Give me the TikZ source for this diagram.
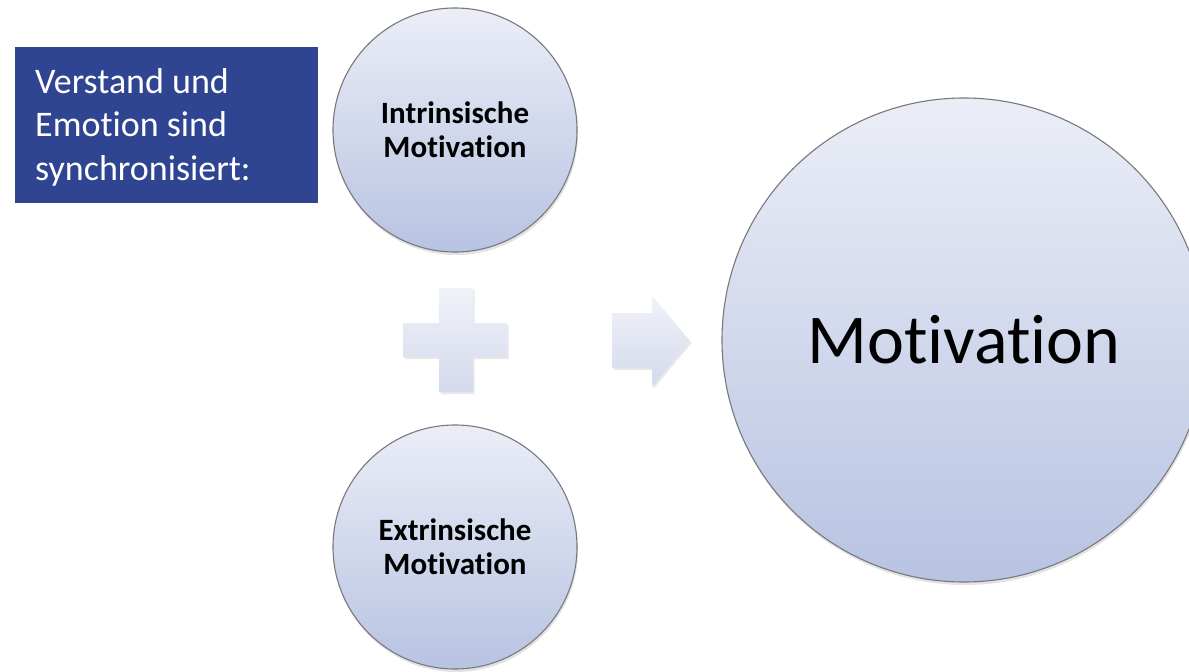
\documentclass[tikz,border=0pt]{standalone}
\usepackage{fontspec}
\setmainfont{Carlito}[RawFeature={-liga;-clig}]
\usetikzlibrary{shadows}
\definecolor{boxblue}{RGB}{47,69,146}
\definecolor{ctop}{RGB}{235,238,247}
\definecolor{cbot}{RGB}{184,195,226}
\definecolor{stop}{RGB}{240,242,249}
\definecolor{sbot}{RGB}{212,218,236}
\definecolor{rimgray}{RGB}{120,120,125}
\tikzset{
  ball/.style={circle, draw=rimgray, line width=1.1pt, top color=ctop, bottom color=cbot,
    inner sep=0pt, align=center, text=black,
    drop shadow={opacity=0.22, shadow xshift=1pt, shadow yshift=-3pt}},
  symb/.style={top color=stop, bottom color=sbot, draw=none,
    drop shadow={opacity=0.18, shadow xshift=1.5pt, shadow yshift=-2pt}},
  smalltxt/.style={font=\fontsize{31}{34}\selectfont\bfseries},
}
\begin{document}
\begin{tikzpicture}[x=1pt,y=-1pt]
\useasboundingbox (0,0) rectangle (1189,672);
\clip (0,0) rectangle (1189,672);
\fill[white] (0,0) rectangle (1189,672);
% blue box
\node[fill=boxblue, minimum width=303pt, minimum height=156pt, inner sep=0pt, anchor=north west] (box) at (15,47) {};
\node[anchor=north west, inner sep=0pt, align=left, text=white,
  font=\fontsize{36}{43.5}\selectfont] (boxtxt) at (35,68)
  {Verstand und\\Emotion sind\\synchronisiert:};
% circles
\node[ball, minimum size=244pt, smalltxt] (intr) at (455,130) {Intrinsische\\Motivation};
\node[ball, minimum size=244pt, smalltxt] (extr) at (455,547) {Extrinsische\\Motivation};
\node[ball, minimum size=484pt, font=\fontsize{70}{80}\selectfont] (mot) at (964,340) {Motivation};
% plus
\path[symb] (439,288) -- (473,288) -- (473,323) -- (507,323) -- (507,357) -- (473,357)
  -- (473,392) -- (439,392) -- (439,357) -- (403,357) -- (403,323) -- (439,323) -- cycle;
% arrow
\path[symb] (612,313) -- (652,313) -- (652,296) -- (690,341) -- (652,387) -- (652,368)
  -- (612,368) -- cycle;
\end{tikzpicture}
\end{document}
